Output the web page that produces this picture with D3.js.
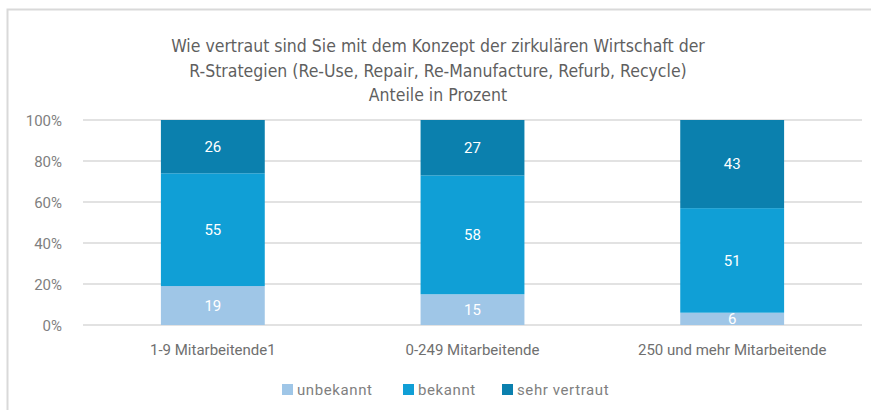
<!DOCTYPE html>
<html lang="de">
<head>
<meta charset="UTF-8" />
<title>R-Strategien</title>
<script src="https://cdn.jsdelivr.net/npm/d3@7"></script>
<style>
  body { margin: 0; background: #fff; }
  text { font-family: Roboto, "Liberation Sans", sans-serif; }
  .title { font-family: "Liberation Sans Narrow", "DejaVu Sans Condensed", sans-serif; fill: #5f5f5f; }
</style>
</head>
<body>
<script>
// data
var groups = ["1-9 Mitarbeitende1", "0-249 Mitarbeitende", "250 und mehr Mitarbeitende"];
var seriesNames = ["unbekannt", "bekannt", "sehr vertraut"];
var unbekannt = [19, 15, 6];
var bekannt = [55, 58, 51];
var sehrVertraut = [26, 27, 43];
var yTicks = [0, 20, 40, 60, 80, 100];
var titleLines = [
  "Wie vertraut sind Sie mit dem Konzept der zirkulären Wirtschaft der",
  "R-Strategien (Re-Use, Repair, Re-Manufacture, Refurb, Recycle)",
  "Anteile in Prozent"
];
var colors = ["#9fc6e7", "#109fd6", "#0b80ae"];

var width = 871, height = 410;
var margin = {top: 120, right: 9, bottom: 85, left: 83};

var svg = d3.select("body").append("svg")
  .attr("width", width).attr("height", height);

// frame
svg.append("path")
  .attr("d", "M7.5," + (height + 2) + "V9.5H" + (width + 2))
  .attr("fill", "none").attr("stroke", "#d9d9d9").attr("stroke-width", 2);

// title
svg.append("g").selectAll("text")
  .data(titleLines).enter().append("text")
  .attr("class", "title")
  .attr("x", 438)
  .attr("y", function(d, i) { return 52 + i * 24.5; })
  .attr("text-anchor", "middle")
  .attr("font-size", 17.5)
  .text(function(d) { return d; });

var x = d3.scaleBand()
  .domain(groups)
  .range([margin.left, width - margin.right])
  .paddingInner(0.6).paddingOuter(0.3);

var y = d3.scaleLinear()
  .domain([0, 100])
  .range([height - margin.bottom, margin.top]);

// gridlines
svg.append("g").selectAll("line")
  .data(yTicks).enter().append("line")
  .attr("x1", margin.left).attr("x2", width - margin.right)
  .attr("y1", function(d) { return y(d); })
  .attr("y2", function(d) { return y(d); })
  .attr("stroke", "#d9d9d9").attr("stroke-width", 1.5);

// y axis
var yAxis = svg.append("g")
  .attr("transform", "translate(" + (margin.left - 18) + ",0)")
  .call(d3.axisLeft(y).tickValues(yTicks).tickSize(0).tickFormat(function(d) { return d + "%"; }));
yAxis.select(".domain").remove();
yAxis.selectAll("text").attr("font-size", 15).attr("fill", "#7f7f7f")
  .attr("font-family", "Roboto, sans-serif").attr("dy", "0.36em");

// x axis
var xAxis = svg.append("g")
  .attr("transform", "translate(0," + (height - margin.bottom + 16) + ")")
  .call(d3.axisBottom(x).tickSize(0));
xAxis.select(".domain").remove();
xAxis.selectAll("text").attr("font-size", 15).attr("fill", "#6f6f6f")
  .attr("font-family", "\"Liberation Sans Narrow\", \"DejaVu Sans Condensed\", sans-serif")
  .attr("dy", "0.71em");

// stack
var rows = groups.map(function(g, i) {
  return {group: g, "unbekannt": unbekannt[i], "bekannt": bekannt[i], "sehr vertraut": sehrVertraut[i]};
});
var stacked = d3.stack().keys(seriesNames)(rows);

var layers = svg.append("g").selectAll("g")
  .data(stacked).enter().append("g")
  .attr("fill", function(d, i) { return colors[i]; });

layers.selectAll("rect")
  .data(function(d) { return d; }).enter().append("rect")
  .attr("x", function(d) { return x(d.data.group); })
  .attr("width", x.bandwidth())
  .attr("y", function(d) { return y(d[1]); })
  .attr("height", function(d) { return y(d[0]) - y(d[1]); });

layers.selectAll("text")
  .data(function(d) { return d; }).enter().append("text")
  .attr("x", function(d) { return x(d.data.group) + x.bandwidth() / 2; })
  .attr("y", function(d) { return (y(d[0]) + y(d[1])) / 2; })
  .attr("dy", "0.36em")
  .attr("text-anchor", "middle")
  .attr("fill", "#fff")
  .attr("font-size", 15)
  .text(function(d) { return d[1] - d[0]; });

// legend
var legendX = [282, 403, 502];
var legend = svg.append("g").selectAll("g")
  .data(seriesNames).enter().append("g")
  .attr("transform", function(d, i) { return "translate(" + legendX[i] + ",384)"; });
legend.append("rect")
  .attr("width", 11).attr("height", 11)
  .attr("fill", function(d, i) { return colors[i]; });
legend.append("text")
  .attr("x", 15).attr("y", 5.5).attr("dy", "0.36em")
  .attr("font-size", 15).attr("fill", "#7f7f7f")
  .attr("font-family", "\"Liberation Sans Narrow\", \"DejaVu Sans Condensed\", sans-serif")
  .attr("letter-spacing", 0.6)
  .text(function(d) { return d; });
</script>
</body>
</html>
